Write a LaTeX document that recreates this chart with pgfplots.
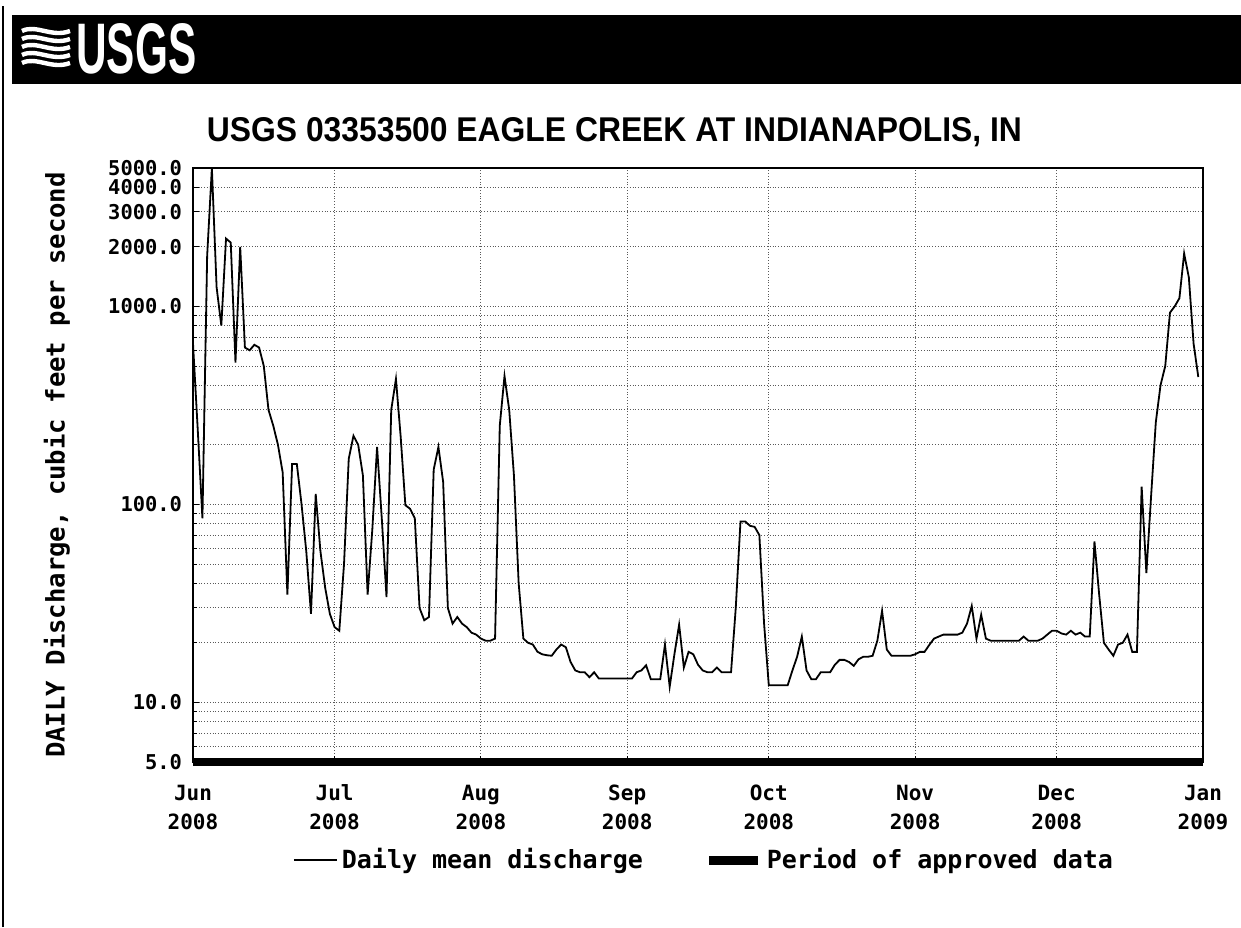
\documentclass[border=0pt]{standalone}
\usepackage{fontspec}
\setmainfont{Liberation Sans}
\setmonofont{DejaVu Sans Mono}
\usepackage{graphicx}
\usepackage{pgfplots}
\pgfplotsset{compat=1.18}

\begin{document}
\begin{tikzpicture}[x=0.5pt,y=0.5pt]
\path[use as bounding box] (0,0) rectangle (1241,927);
% outer frame (left edge)
\draw[line width=0.8pt] (3,0) -- (3,921);
% header band
\fill[black] (12,912) rectangle (1241,843);
\begin{scope}[white, line width=2.2pt]
  \foreach \i in {0,1,2,3,4} {
    \draw (22,{896-8*\i}) .. controls (36,{903-8*\i}) and (52,{889-8*\i}) .. (70,{896-8*\i});
  }
\end{scope}
\node[white, inner sep=0pt, anchor=south west] at (76,852) {\resizebox{60pt}{25pt}{\bfseries USGS}};
% title
\node[inner sep=0pt, anchor=base] at (614.5,785) {\resizebox{407.5pt}{12pt}{\bfseries USGS 03353500 EAGLE CREEK AT INDIANAPOLIS, IN}};

\begin{axis}[
  at={(96.5pt,82.5pt)}, anchor=south west,
  scale only axis, width=505pt, height=297pt,
  clip=false,
  xmin=0, xmax=214,
  ymode=log, ymin=5, ymax=5000,
  xtick={0,30,61,92,122,153,183,214},
  xticklabels={{\strut Jun\\\strut 2008},{\strut Jul\\\strut 2008},{\strut Aug\\\strut 2008},{\strut Sep\\\strut 2008},{\strut Oct\\\strut 2008},{\strut Nov\\\strut 2008},{\strut Dec\\\strut 2008},{\strut Jan\\\strut 2009}},
  xticklabel style={align=center, font=\ttfamily\bfseries\fontsize{10.5}{14.5}\selectfont, anchor=north, yshift=-5.5pt},
  ytick={5,10,100,1000,2000,3000,4000,5000},
  yticklabels={5.0,10.0,100.0,1000.0,2000.0,3000.0,4000.0,5000.0},
  yticklabel style={font=\ttfamily\bfseries\fontsize{10.2}{11}\selectfont, xshift=-2pt},
  minor ytick={6,7,8,9,20,30,40,50,60,70,80,90,200,300,400,500,600,700,800,900},
  grid=both,
  major grid style={densely dotted, black!65, line width=0.5pt},
  minor grid style={densely dotted, black!65, line width=0.5pt},
  axis line style={line width=1.2pt},
  tick style={black, line width=0.5pt},
  tick align=inside, major tick length=3pt, minor tick length=2pt,
  xtick pos=bottom, ytick pos=left,
  ylabel={DAILY Discharge, cubic feet per second},
  ylabel style={at={(axis description cs:-0.1347,0.5)}, anchor=center, font=\ttfamily\bfseries\fontsize{12.8}{14}\selectfont},
  legend style={at={(axis description cs:0.507,-0.165)}, anchor=center, draw=none, fill=none,
    legend columns=2, font=\ttfamily\bfseries\fontsize{12.5}{14}\selectfont,
    /tikz/every even column/.append style={column sep=29pt}},
]
\addplot[black, line width=0.9pt, legend image code/.code={\draw[black, line width=0.9pt] (0pt,0pt) -- (21.5pt,0pt);}] coordinates {
(0,650) (1,240) (2,85) (3,1800) (4,5000) (5,1250) (6,800) (7,2200) (8,2100) (9,520)
(10,2000) (11,620) (12,600) (13,640) (14,620) (15,500) (16,300) (17,250) (18,200) (19,145)
(20,35) (21,160) (22,160) (23,100) (24,58) (25,28) (26,113) (27,58) (28,38) (29,28)
(30,24) (31,23) (32,50) (33,170) (34,222) (35,200) (36,140) (37,35) (38,75) (39,195)
(40,85) (41,34) (42,300) (43,430) (44,220) (45,99) (46,95) (47,85) (48,30) (49,26)
(50,27) (51,150) (52,195) (53,130) (54,30) (55,25) (56,27) (57,25) (58,24) (59,22.5)
(60,22) (61,21) (62,20.5) (63,20.5) (64,21) (65,250) (66,445) (67,300) (68,140) (69,40)
(70,21) (71,20) (72,19.6) (73,18) (74,17.5) (75,17.3) (76,17.2) (77,18.5) (78,19.6) (79,19)
(80,16) (81,14.5) (82,14.2) (83,14.2) (84,13.4) (85,14.2) (86,13.2) (87,13.2) (88,13.2) (89,13.2)
(90,13.2) (91,13.2) (92,13.2) (93,13.2) (94,14.2) (95,14.5) (96,15.4) (97,13.1) (98,13.1) (99,13.1)
(100,19.6) (101,12) (102,17.5) (103,24.7) (104,15) (105,18) (106,17.5) (107,15.5) (108,14.5) (109,14.2)
(110,14.2) (111,15) (112,14.2) (113,14.2) (114,14.2) (115,30) (116,82) (117,82) (118,78) (119,77)
(120,70) (121,25) (122,12.2) (123,12.2) (124,12.2) (125,12.2) (126,12.2) (127,14.5) (128,17) (129,21.5)
(130,14.5) (131,13.1) (132,13.1) (133,14.2) (134,14.2) (135,14.2) (136,15.5) (137,16.4) (138,16.4) (139,16)
(140,15.3) (141,16.5) (142,17) (143,17) (144,17.2) (145,20.5) (146,29) (147,18.5) (148,17.2) (149,17.2)
(150,17.2) (151,17.2) (152,17.2) (153,17.5) (154,18) (155,18) (156,19.5) (157,21) (158,21.5) (159,22)
(160,22) (161,22) (162,22) (163,22.5) (164,25) (165,30.7) (166,21) (167,27.7) (168,21) (169,20.5)
(170,20.5) (171,20.5) (172,20.5) (173,20.5) (174,20.5) (175,20.5) (176,21.5) (177,20.5) (178,20.5) (179,20.5)
(180,21) (181,22) (182,23) (183,23) (184,22.3) (185,22) (186,23) (187,22) (188,22.5) (189,21.5)
(190,21.5) (191,65) (192,35) (193,20) (194,18.5) (195,17.2) (196,19.6) (197,20) (198,22) (199,18)
(200,18) (201,123) (202,45) (203,110) (204,260) (205,400) (206,500) (207,930) (208,1000) (209,1100)
(210,1850) (211,1400) (212,650) (213,440)
};
\addlegendentry{Daily mean discharge}
\addplot[black, line width=4pt, legend image code/.code={\draw[black, line width=4.5pt] (0pt,0pt) -- (24.5pt,0pt);}] coordinates {(0,5) (214,5)};
\addlegendentry{Period of approved data}
\end{axis}
\end{tikzpicture}
\end{document}
